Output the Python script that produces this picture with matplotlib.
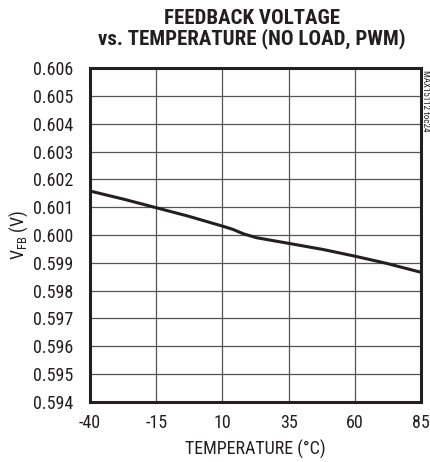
import numpy as np
import matplotlib
matplotlib.use('Agg')
import matplotlib.pyplot as plt
from matplotlib import font_manager

# Feedback voltage vs temperature
temp_c = [-40, -27, -15, -3, 10, 14, 18, 23, 29, 35, 48, 60, 72, 85]
vfb_v = [0.60158, 0.60128, 0.60098, 0.60068, 0.60032, 0.60020, 0.60004, 0.59990,
         0.59980, 0.59970, 0.59948, 0.59924, 0.59898, 0.59866]

x_ticks = [-40, -15, 10, 35, 60, 85]
y_ticks = [0.594, 0.595, 0.596, 0.597, 0.598, 0.599, 0.600,
           0.601, 0.602, 0.603, 0.604, 0.605, 0.606]

# pick a narrow sans if one is installed
installed = {f.name for f in font_manager.fontManager.ttflist}
narrow = None
for cand in ['Liberation Sans Narrow', 'DejaVu Sans Condensed', 'Roboto Condensed',
             'Open Sans Condensed', 'Roboto']:
    if cand in installed:
        narrow = cand
        break
plt.rcParams['font.family'] = [narrow or 'DejaVu Sans', 'DejaVu Sans']

fig = plt.figure(figsize=(4.31, 4.62), dpi=100)
ax = fig.add_axes([0.2088, 0.1299, 0.768, 0.7229])

ax.plot(temp_c, vfb_v, color='#231f20', linewidth=2.2, solid_joinstyle='round')

ax.set_xlim(-40, 85)
ax.set_ylim(0.594, 0.606)
ax.set_xticks(x_ticks)
ax.set_yticks(y_ticks)
ax.set_xticklabels([f'{t}' for t in x_ticks])
ax.set_yticklabels([f'{v:.3f}' for v in y_ticks])
ax.tick_params(length=0, labelsize=13, colors='#231f20')
ax.tick_params(axis='y', pad=12)
ax.tick_params(axis='x', pad=9)
ax.grid(True, color='#555555', linewidth=0.9)

for s in ax.spines.values():
    s.set_linewidth(2.2)
    s.set_color('#231f20')

ax.set_xlabel('TEMPERATURE (°C)', fontsize=13, color='#231f20', labelpad=5)
ax.set_ylabel(r'V$_{\mathregular{FB}}$ (V)', fontsize=13, color='#231f20', labelpad=2)

fig.text(0.585, 0.893, 'FEEDBACK VOLTAGE\nvs. TEMPERATURE (NO LOAD, PWM)',
         ha='center', va='bottom', fontsize=15, fontweight='bold',
         color='#231f20', linespacing=1.05)

fig.text(0.987, 0.848, 'MAX15112 toc24', rotation=270, ha='center', va='top',
         fontsize=6.5, color='#231f20')

fig.savefig('out.png', dpi=100)
